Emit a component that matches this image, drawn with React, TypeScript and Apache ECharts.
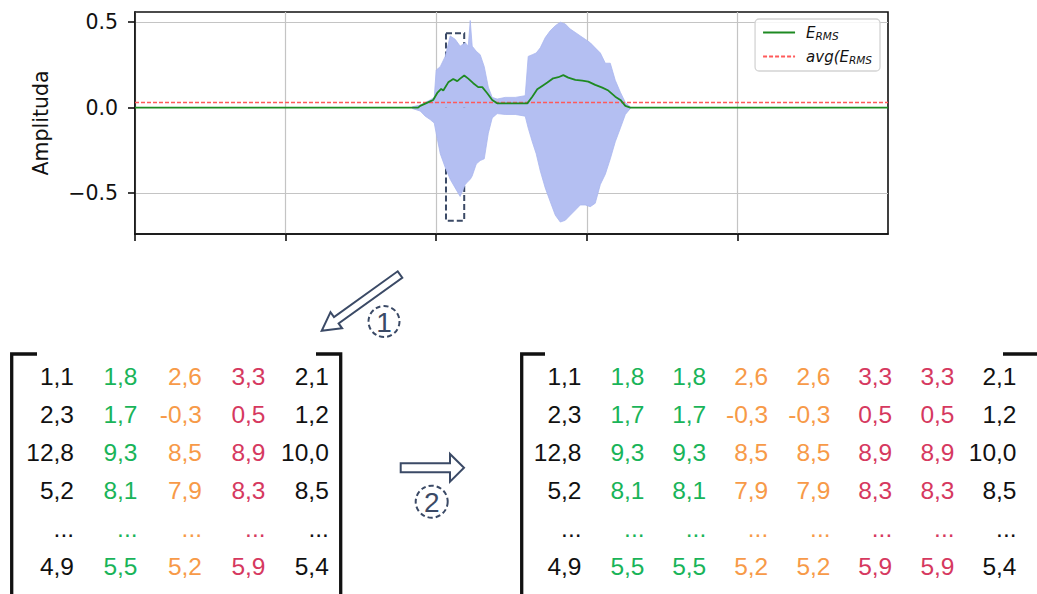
import React, { useEffect, useRef } from 'react';
import * as echarts from 'echarts';

// ---- waveform (upper / lower envelope of the signal) ----
const waveTime = [1.841, 1.894, 1.927, 1.960, 1.987, 2.000, 2.027, 2.060, 2.093, 2.126, 2.159, 2.193, 2.213, 2.226, 2.239, 2.266, 2.292, 2.319, 2.346, 2.372, 2.405, 2.458, 2.525, 2.591, 2.611, 2.638, 2.664, 2.691, 2.724, 2.757, 2.791, 2.824, 2.857, 2.890, 2.924, 2.957, 2.990, 3.023, 3.056, 3.090, 3.123, 3.156, 3.189, 3.223, 3.256, 3.289];
const waveUpper = [0.005, 0.015, 0.03, 0.045, 0.06, 0.22, 0.24, 0.30, 0.42, 0.40, 0.36, 0.38, 0.36, 0.51, 0.36, 0.33, 0.31, 0.24, 0.12, 0.06, 0.05, 0.06, 0.06, 0.07, 0.30, 0.31, 0.32, 0.35, 0.41, 0.45, 0.48, 0.50, 0.49, 0.46, 0.44, 0.42, 0.40, 0.38, 0.35, 0.32, 0.26, 0.26, 0.16, 0.09, 0.03, 0.005];
const waveLower = [-0.005, -0.02, -0.05, -0.07, -0.09, -0.15, -0.27, -0.35, -0.42, -0.47, -0.52, -0.45, -0.43, -0.42, -0.40, -0.33, -0.31, -0.30, -0.15, -0.06, -0.035, -0.04, -0.04, -0.05, -0.12, -0.20, -0.27, -0.37, -0.47, -0.55, -0.63, -0.67, -0.66, -0.63, -0.60, -0.57, -0.57, -0.58, -0.56, -0.45, -0.39, -0.30, -0.20, -0.12, -0.04, -0.005];

// ---- RMS energy ----
const rmsTime = [0, 1.880, 1.894, 1.960, 1.980, 2.007, 2.033, 2.047, 2.080, 2.113, 2.140, 2.159, 2.186, 2.213, 2.246, 2.279, 2.306, 2.339, 2.372, 2.405, 2.605, 2.638, 2.671, 2.704, 2.738, 2.777, 2.811, 2.844, 2.877, 2.924, 2.970, 3.010, 3.056, 3.103, 3.143, 3.189, 3.223, 3.256, 3.289, 5];
const rmsValue = [0, 0, 0.01, 0.037, 0.045, 0.086, 0.11, 0.10, 0.148, 0.168, 0.155, 0.17, 0.188, 0.17, 0.143, 0.12, 0.12, 0.084, 0.045, 0.025, 0.025, 0.064, 0.107, 0.127, 0.147, 0.172, 0.178, 0.19, 0.176, 0.162, 0.158, 0.152, 0.133, 0.117, 0.10, 0.064, 0.045, 0.01, 0, 0];
const avgRms = 0.03;

const timeRange = [0, 5];
const ampRange = [-0.74, 0.56];
const xTicks = [0, 1, 2, 3, 4];
const yTicks = [-0.5, 0, 0.5];
const boxTime = [2.065, 2.186];
const boxAmp = [0.435, -0.662];

const seriesNames = ['E_RMS', 'avg(E_RMS'];
const yLabel = 'Amplituda';

// ---- matrices ----
const matrixCol1 = ['1,1', '2,3', '12,8', '5,2', '...', '4,9'];
const matrixCol2 = ['1,8', '1,7', '9,3', '8,1', '...', '5,5'];
const matrixCol3 = ['2,6', '-0,3', '8,5', '7,9', '...', '5,2'];
const matrixCol4 = ['3,3', '0,5', '8,9', '8,3', '...', '5,9'];
const matrixCol5 = ['2,1', '1,2', '10,0', '8,5', '...', '5,4'];
const stepLabels = ['1', '2'];

const INK = '#3b4a66';
const BLACK = '#111111';
const GREEN = '#19b459';
const ORANGE = '#f79a48';
const CRIMSON = '#d6395f';
const RMS_GREEN = '#1e8a22';
const AVG_RED = '#ff5a5a';
const MONO = 'DejaVu Sans';
const ARIAL = 'Liberation Sans';

function buildGraphics() {
  const els: any[] = [];
  const leftCols = [matrixCol1, matrixCol2, matrixCol3, matrixCol4, matrixCol5];
  const leftColors = [BLACK, GREEN, ORANGE, CRIMSON, BLACK];
  const leftRight = [74, 137.5, 202, 265.5, 328.8];
  const rightCols = [matrixCol1, matrixCol2, matrixCol2, matrixCol3, matrixCol3, matrixCol4, matrixCol4, matrixCol5];
  const rightColors = [BLACK, GREEN, GREEN, ORANGE, ORANGE, CRIMSON, CRIMSON, BLACK];
  const rightRight = [581.5, 644.5, 706.2, 768.2, 830.5, 892.2, 954.5, 1016.5];
  const baseline0 = 385;
  const rowStep = 38.1;

  const addCols = (cols: string[][], colors: string[], rights: number[]) => {
    cols.forEach((col, c) => {
      col.forEach((txt, r) => {
        els.push({
          type: 'text',
          x: rights[c],
          y: baseline0 + r * rowStep - 8.8,
          silent: true,
          style: {
            text: txt,
            fill: colors[c],
            fontSize: 24.5,
            fontFamily: ARIAL,
            align: 'right',
            verticalAlign: 'middle',
            textAlign: 'right',
            textVerticalAlign: 'middle',
          },
        });
      });
    });
  };
  addCols(leftCols, leftColors, leftRight);
  addCols(rightCols, rightColors, rightRight);

  const bracket = (pts: number[][]) => ({
    type: 'polyline',
    silent: true,
    shape: { points: pts },
    style: { stroke: BLACK, lineWidth: 3.3, fill: null, lineJoin: 'miter', lineCap: 'butt' },
  });
  els.push(bracket([[37, 354], [11.7, 354], [11.7, 600]]));
  els.push(bracket([[316, 354], [340.7, 354], [340.7, 600]]));
  els.push(bracket([[545, 354], [521.7, 354], [521.7, 600]]));
  els.push(bracket([[1003, 354], [1039, 354], [1039, 600]]));

  // arrow 1 (diagonal, outlined)
  els.push({
    type: 'polygon',
    silent: true,
    shape: {
      points: [[397.7, 271.3], [402.3, 277.7], [338.6, 323.4], [342.1, 328.3], [321.7, 330.7], [330.5, 312.1], [334.0, 317.0]],
    },
    style: { fill: '#fff', stroke: INK, lineWidth: 2, lineJoin: 'miter' },
  });
  // arrow 2 (right, outlined)
  els.push({
    type: 'polygon',
    silent: true,
    shape: {
      points: [[400.7, 463.3], [450, 463.3], [450, 454], [464, 467.8], [450, 481.7], [450, 472.3], [400.7, 472.3]],
    },
    style: { fill: '#fff', stroke: INK, lineWidth: 2, lineJoin: 'miter' },
  });

  const circles = [
    { cx: 384, cy: 321.5, r: 15.5 },
    { cx: 431.7, cy: 501.7, r: 16 },
  ];
  circles.forEach((c, i) => {
    els.push({
      type: 'circle',
      silent: true,
      shape: { cx: c.cx, cy: c.cy, r: c.r },
      style: { fill: 'none', stroke: INK, lineWidth: 2, lineDash: [5, 3] },
    });
    els.push({
      type: 'text',
      silent: true,
      x: c.cx,
      y: c.cy + 0.5,
      style: {
        text: stepLabels[i],
        fill: INK,
        fontSize: 28,
        fontFamily: ARIAL,
        align: 'center',
        verticalAlign: 'middle',
        textAlign: 'center',
        textVerticalAlign: 'middle',
      },
    });
  });
  return els;
}

export default function App() {
  const ref = useRef<HTMLDivElement>(null);
  useEffect(() => {
    if (!ref.current) return;
    const chart = echarts.init(ref.current, undefined, { renderer: 'svg' });
    const fmtY = (v: number) => (v < 0 ? '\u2212' : '') + Math.abs(v).toFixed(1);
    const option: any = {
      animation: false,
      backgroundColor: '#ffffff',
      grid: {
        left: 135,
        top: 12,
        width: 753,
        height: 222,
        show: true,
        borderColor: BLACK,
        borderWidth: 1.6,
        backgroundColor: 'transparent',
      },
      legend: {
        data: seriesNames,
        orient: 'vertical',
        right: 157,
        top: 19,
        itemWidth: 32,
        itemHeight: 14,
        itemGap: 7,
        padding: [5, 8, 6, 7],
        borderColor: '#d3d3d3',
        borderWidth: 1.3,
        borderRadius: 4,
        backgroundColor: 'rgba(255,255,255,0.85)',
        selectedMode: false,
        itemStyle: { opacity: 0, borderWidth: 0 },
        formatter: (name: string) =>
          name === 'E_RMS' ? '{i|E}{s|RMS}' : '{i|avg(E}{s|RMS}',
        textStyle: {
          fontFamily: MONO,
          fontSize: 15,
          color: BLACK,
          padding: [0, 0, 0, 6],
          rich: {
            i: { fontFamily: MONO, fontStyle: 'italic', fontSize: 15, color: BLACK, lineHeight: 18 },
            s: { fontFamily: MONO, fontStyle: 'italic', fontSize: 10.5, color: BLACK, lineHeight: 18, padding: [6, 0, 0, 0] },
          },
        },
      },
      xAxis: {
        type: 'value',
        min: timeRange[0],
        max: timeRange[1],
        interval: 1,
        axisLine: { show: true, onZero: false, lineStyle: { color: BLACK, width: 1.6 } },
        axisTick: { show: true, length: 7, customValues: xTicks, lineStyle: { color: BLACK, width: 1.6 } },
        axisLabel: { show: false },
        splitLine: { show: true, lineStyle: { color: '#c4c4c4', width: 1.2 } },
      },
      yAxis: {
        type: 'value',
        min: ampRange[0],
        max: ampRange[1],
        name: yLabel,
        nameLocation: 'middle',
        nameGap: 84,
        nameTextStyle: { fontFamily: MONO, fontSize: 20.5, color: BLACK },
        axisLine: { show: true, onZero: false, lineStyle: { color: BLACK, width: 1.6 } },
        axisTick: { show: true, length: 7, customValues: yTicks, lineStyle: { color: BLACK, width: 1.6 } },
        axisLabel: {
          customValues: yTicks,
          formatter: fmtY,
          fontFamily: MONO,
          fontSize: 20.5,
          color: BLACK,
          margin: 17,
        },
        splitLine: { show: true, lineStyle: { color: '#c4c4c4', width: 1.2 } },
      },
      series: [
        {
          type: 'line',
          name: 'waveUp',
          data: waveTime.map((t, i) => [t, waveUpper[i]]),
          symbol: 'none',
          silent: true,
          lineStyle: { width: 0.8, color: '#aab6ef' },
          areaStyle: { color: '#b4bff2', opacity: 1 },
          z: 1,
        },
        {
          type: 'line',
          name: 'waveDown',
          data: waveTime.map((t, i) => [t, waveLower[i]]),
          symbol: 'none',
          silent: true,
          lineStyle: { width: 0.8, color: '#aab6ef' },
          areaStyle: { color: '#b4bff2', opacity: 1 },
          z: 1,
        },
        {
          type: 'line',
          name: seriesNames[1],
          data: [[timeRange[0], avgRms], [timeRange[1], avgRms]],
          symbol: 'none',
          silent: true,
          itemStyle: { color: AVG_RED },
          lineStyle: { color: AVG_RED, width: 1.4, type: [4, 2] },
          z: 3,
        },
        {
          type: 'line',
          name: seriesNames[0],
          data: rmsTime.map((t, i) => [t, rmsValue[i]]),
          symbol: 'none',
          silent: true,
          itemStyle: { color: RMS_GREEN },
          lineStyle: { color: RMS_GREEN, width: 1.8 },
          z: 4,
          markArea: {
            silent: true,
            itemStyle: { color: 'rgba(0,0,0,0)', borderColor: INK, borderWidth: 2, borderType: [6, 3] },
            data: [[{ xAxis: boxTime[0], yAxis: boxAmp[0] }, { xAxis: boxTime[1], yAxis: boxAmp[1] }]],
          },
        },
      ],
      graphic: buildGraphics(),
    };
    chart.setOption(option);
    return () => chart.dispose();
  }, []);
  return (
    <div
      ref={ref}
      style={{ position: 'absolute', left: 0, top: 0, width: 1037, height: 594, background: '#fff' }}
    />
  );
}
